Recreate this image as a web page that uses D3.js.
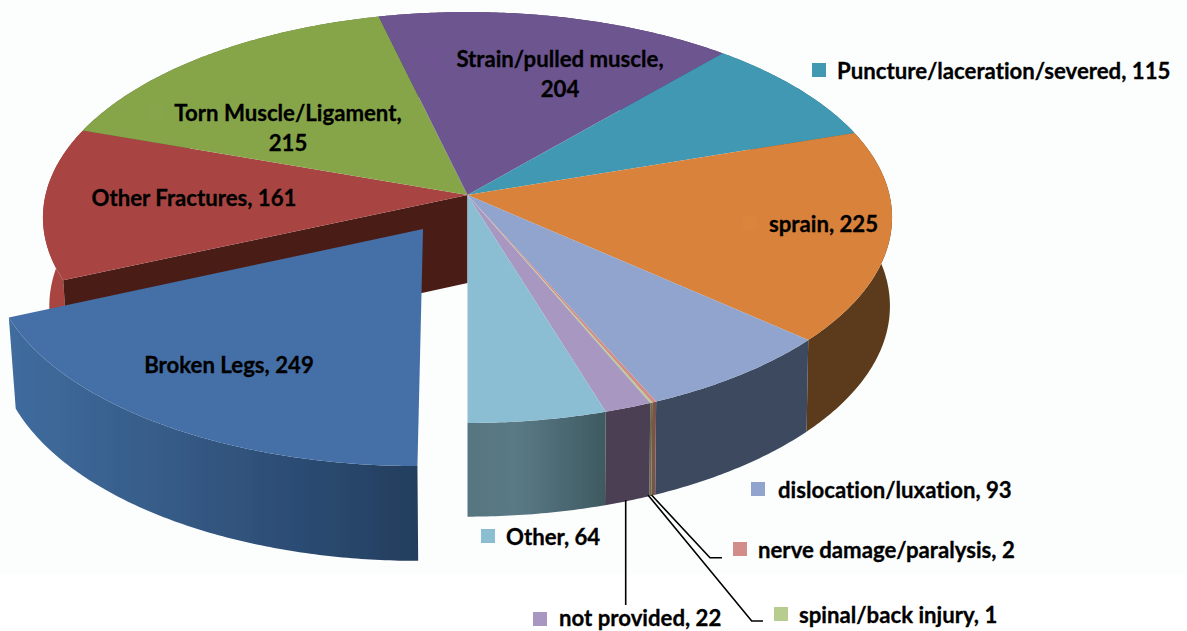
<!DOCTYPE html>
<html><head><meta charset="utf-8">
<script src="https://cdn.jsdelivr.net/npm/d3@7/dist/d3.min.js"></script>
<style>html,body{margin:0;padding:0;background:#fff}svg{display:block}text{font-family:Lato,"Noto Sans",sans-serif;font-weight:700;fill:#000;stroke:#000;stroke-width:0.3px;font-variant-ligatures:none}</style>
</head><body><svg id="c" width="1187" height="631"></svg>
<script>
// Slices run clockwise from 6 o'clock, as in the source chart.
const categories = ["Broken Legs","Other Fractures","Torn Muscle/Ligament","Strain/pulled muscle","Puncture/laceration/severed","sprain","dislocation/luxation","nerve damage/paralysis","spinal/back injury","not provided","Other"];
const values = [249,161,215,204,115,225,93,2,1,22,64];
const topColors = ["#4470a7","#a84543","#86a54a","#6d5490","#4198b3","#d8823a","#91a4cd","#d28d8a","#b7cd8f","#a797c1","#8bbed2"];
const wallColors = ["url(#gBroken)","#a8443f","#5d7433","#4a3963","#2b687c","#5b3a1a","#3e4a5f","#7a5248","#6a6a45","#4b3f52","url(#gOther)"];
const explode = [1,0,0,0,0,0,0,0,0,0,0];
// label layout: text lines, anchor, x, first baseline, marker position, marker colour
const labelLines = [["Broken Legs, 249"],["Other Fractures, 161"],["Torn Muscle/Ligament,","215"],["Strain/pulled muscle,","204"],["Puncture/laceration/severed, 115"],["sprain, 225"],["dislocation/luxation, 93"],["nerve damage/paralysis, 2"],["spinal/back injury, 1"],["not provided, 22"],["Other, 64"]];
const labelAnchor = ["middle","middle","middle","middle","start","start","start","start","start","start","start"];
const labelX = [229,194,288,560,837,769,778,758,799,559,506];
const labelY = [373,206,121,67,79,232,498,558,623,625.5,545];
const markerX = [null,null,148,427,812,743,751,733,774,533,481];
const markerY = [null,null,105,52,63,216,482,542,607,612,529];
const markerFill = [null,null,"#87a64b","#6e5591","#4198b3","#da843c","#91a4cd","#d28d8a","#b7cd8f","#a797c1","#8bbed2"];
const leaders = [
  [[625.7,500],[625.7,605]],
  [[651.5,495],[710,557.7],[722,557.7]],
  [[648,495],[751.7,621],[763,621]]
];

const cx=467.5, cy=195, a=422, b=203, p=0.1095, du=-0.1035, dv=-0.165;
const svg=d3.select("#c");
const defs=svg.append("defs");
function grad(id,x1,x2,stops){const g=defs.append("linearGradient").attr("id",id).attr("gradientUnits","userSpaceOnUse").attr("x1",x1).attr("x2",x2).attr("y1",0).attr("y2",0);
  stops.forEach(s=>g.append("stop").attr("offset",s[0]).attr("stop-color",s[1]));}
grad("gBroken",12,418,[[0,"#3f6c9e"],[0.35,"#375d89"],[0.7,"#2c4c73"],[1,"#233e5e"]]);
grad("gOther",467,604,[[0,"#56757f"],[0.35,"#5a7a85"],[0.7,"#4b6973"],[1,"#3f5a62"]]);
defs.append("filter").attr("id","soft").append("feGaussianBlur").attr("stdDeviation",0.5);

svg.append("rect").attr("width",1187).attr("height",575).attr("fill","#fcfdfd");
const pieG=svg.append("g").attr("filter","url(#soft)");

// perspective projection of the unit disc on to the page
function project(u,v){const w=1+p*v;return [cx+a*u/w, cy-b*v/w];}
function lower(pt){const s=pt[0]<cx?0.985:0.995;return [cx+(pt[0]-cx)*s, pt[1]+88+0.025*(pt[1]-cy)];}
const line=d3.line();
const arcs=d3.pie().sort(null).value(d=>d).startAngle(Math.PI).endAngle(3*Math.PI)(values);
function rim(d){const ox=explode[d.index]?du:0, oy=explode[d.index]?dv:0;
  const n=Math.max(2,Math.ceil((d.endAngle-d.startAngle)/0.01));
  return d3.range(n+1).map(i=>{const t=d.startAngle+(d.endAngle-d.startAngle)*i/n;return project(Math.sin(t)+ox,Math.cos(t)+oy);});}
function apex(d){return explode[d.index]?project(du,dv):project(0,0);}
function wallPath(d){const r=rim(d);return line(r.concat(r.map(lower).reverse()))+"Z";}
function topPath(d){return line([apex(d)].concat(rim(d)))+"Z";}

const fixed=arcs.filter(d=>!explode[d.index]), moved=arcs.filter(d=>explode[d.index]);
// outer walls of the fixed slices
pieG.append("g").selectAll("path").data(fixed).join("path").attr("d",wallPath).attr("fill",d=>wallColors[d.index]);
// cut face left exposed by the exploded slice
const redSlice=arcs[1];
{const r=rim(redSlice)[0], c=project(0,0);
 pieG.append("path").attr("d",line([c,r,lower(r),lower(c)])+"Z").attr("fill","#4a1c18");}
// top faces
pieG.append("g").selectAll("path").data(fixed).join("path").attr("d",topPath).attr("fill",d=>topColors[d.index]);
// exploded slice
pieG.append("g").selectAll("path").data(moved).join("path").attr("d",wallPath).attr("fill",d=>wallColors[d.index]);
pieG.append("g").selectAll("path").data(moved).join("path").attr("d",topPath).attr("fill",d=>topColors[d.index]);

// leader lines
svg.append("g").selectAll("path").data(leaders).join("path").attr("d",d=>line(d)).attr("fill","none").attr("stroke","#000").attr("stroke-width",1.6);
// markers
svg.append("g").selectAll("rect").data(d3.range(categories.length).filter(i=>markerX[i]!==null)).join("rect")
  .attr("x",i=>markerX[i]).attr("y",i=>markerY[i]).attr("width",14).attr("height",14).attr("fill",i=>markerFill[i]);
// labels
const fs=22.2;
const lab=svg.append("g").selectAll("text").data(d3.range(categories.length)).join("text")
  .attr("text-anchor",i=>labelAnchor[i]).attr("font-size",fs);
lab.each(function(i){const t=d3.select(this);labelLines[i].forEach((s,k)=>t.append("tspan").attr("x",labelX[i]).attr("y",labelY[i]+k*29.5).text(s));});
</script></body></html>
